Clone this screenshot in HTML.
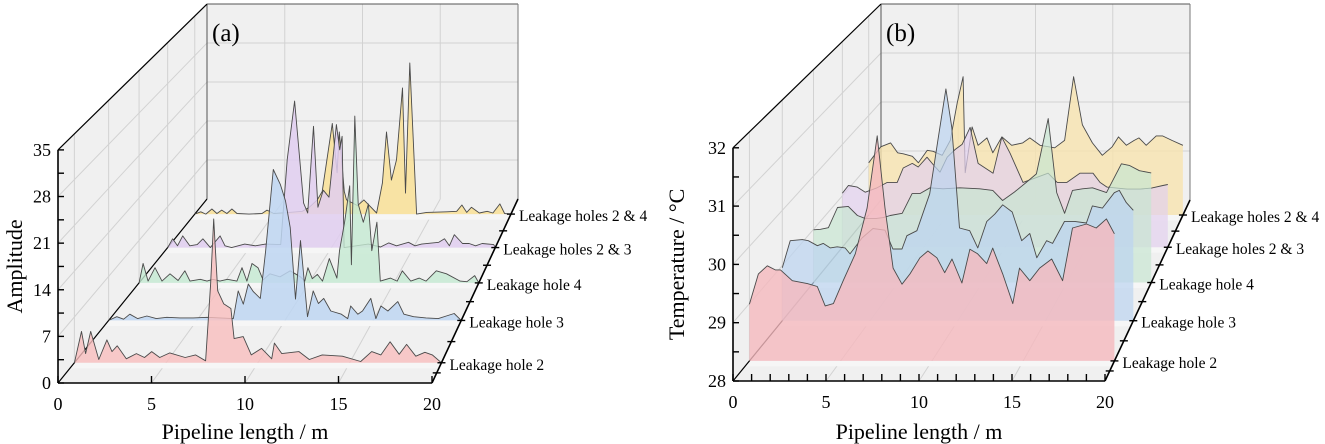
<!DOCTYPE html>
<html><head><meta charset="utf-8">
<style>
html,body{margin:0;padding:0;background:#fff;}
svg{display:block;font-family:"Liberation Serif",serif;}
</style></head>
<body>
<svg id="chart" width="1325" height="444" viewBox="0 0 1325 444" xmlns="http://www.w3.org/2000/svg"></svg>
<script>
// ---------- Panel (a): amplitude ----------
const aSeriesNames = ["Leakage hole 2","Leakage hole 3","Leakage hole 4","Leakage holes 2 & 3","Leakage holes 2 & 4"];
const aX_h2 = [0,0.39,0.61,0.89,1.33,1.77,2.05,2.33,2.83,3.38,3.82,4.21,4.65,5.2,6.04,6.6,7.15,7.42,7.59,7.81,8.14,8.53,8.7,9.2,9.64,10.2,10.75,10.9,11.3,12.24,12.8,13.5,14.6,15.6,16.2,16.7,17.2,17.7,18.1,18.6,19.1,19.5,20];
const aY_h2 = [0,4.8,1.4,4.8,0.5,3.5,1.7,2.6,0.6,1.4,0.8,1.7,0.8,1.5,0.8,1.2,0.3,12,22,11,9,8.3,3.7,4,1.2,2.2,0.6,3,1.4,1.7,0.5,1.2,1,0.2,1.7,1.2,3.2,1.3,2.8,1.0,1.6,1.2,0];
const aX_h3 = [0,0.46,0.85,1.2,1.65,2.17,2.7,3.3,4.05,4.8,5.6,6.3,7.07,7.35,7.64,7.92,8.2,8.6,8.9,9.34,9.74,10.03,10.3,10.6,10.88,11.28,11.6,11.9,12.2,12.6,13.2,13.56,13.73,14.13,14.4,14.87,15.16,15.44,15.84,16.4,16.75,17.3,18,18.7,19.15,19.6,20];
const aY_h3 = [0,0.6,0.2,1,0.3,0.7,0.3,0.5,0.4,0.4,0.5,0.4,0.3,4.7,2.6,5.8,4.6,3.5,11,24,21.6,19,14.8,3.4,12.7,0.6,4.7,2.7,3.5,1.5,1,0.3,2.3,1,1.5,3.5,0.3,2.3,1.5,3,1,0.6,0.4,0.3,0.7,1.1,0];
const aX_h4 = [0,0.24,0.53,0.94,1.35,1.82,2.3,2.7,3,3.6,4,4.35,4.76,5.2,5.76,6.06,6.35,6.65,7,7.3,7.7,8.3,8.9,9.5,9.76,9.94,10.2,10.5,10.8,11.2,11.65,11.8,12.1,12.4,12.5,12.7,12.9,13.2,13.5,13.7,14,14.2,14.8,15.2,15.5,16,16.5,16.9,17.5,18.1,18.9,19.3,19.76,20];
const aY_h4 = [0,3.2,0.3,2.5,0.3,1.5,0.4,2,0.3,0.6,0.3,0.6,0.3,0.6,0.3,2.5,0.3,3.2,2.5,0.5,1.5,1,2,1,0.3,2.5,0.7,1.4,0.3,4,0.8,5.3,10,16,3,27.5,13,10,13,5.3,10,0.3,0.8,0.3,2,0.3,0.8,0.3,2,1.5,0.3,0.2,1.2,0];
const aX_h23 = [0,0.3,0.6,0.92,1.35,1.8,2.15,2.6,3.2,3.5,3.9,4.7,5.35,5.97,6.9,7.3,7.75,8.3,8.55,8.9,9.17,9.5,9.85,10.3,10.5,10.65,10.77,11.5,12.25,13,13.5,13.97,14.7,15.1,15.5,16.55,16.9,17.2,17.5,18,18.4,18.8,19.2,19.9,20];
const aY_h23 = [0,1.5,0.3,2,0.3,0.5,1.5,0,2,0.3,0,0.6,0.3,0.6,0.5,15,25,7.6,5.9,20.7,6.9,9.8,8.6,21,16.7,19,0,0.3,0.6,0.1,0.8,0.3,0.9,0.3,0.6,0.9,1.5,0.3,2.2,0.7,0.7,0.3,0.7,0.5,0];
const aX_h24 = [0,0.38,0.7,1.08,1.4,1.7,2.03,2.35,2.67,3.43,4.25,4.57,5,5.97,6.8,7.24,7.75,8.06,8.7,9,9.14,9.46,9.6,10.3,10.7,11.5,11.87,12.13,12.44,12.76,13.14,13.33,13.6,14.03,14.67,15.94,16.57,16.9,17.2,17.5,18,18.5,18.86,19.3,19.6,20];
const aY_h24 = [0,0.4,0,0.9,0.1,0.7,0.1,0.9,0.1,0,0.1,0.7,0.1,0.3,0.5,1.2,2.5,4,16,7.3,14.5,4,2.5,1.5,2.5,0.2,5.5,14.5,6,9.6,22.3,3.7,26.7,0,0.3,0.4,0.5,1.6,0.3,1.2,0.2,0.5,0.2,1.8,0.1,0];
const aYTicks = [0,7,14,21,28,35];
const xTickLabels = [0,5,10,15,20];

// ---------- Panel (b): temperature ----------
const bSeriesNames = ["Leakage hole 2","Leakage hole 3","Leakage hole 4","Leakage holes 2 & 3","Leakage holes 2 & 4"];
const bX_h2 = [0,0.49,0.98,1.42,1.7,2.35,3.17,3.72,4.15,4.6,5.14,5.8,6.45,7.0,7.43,7.87,8.36,8.8,9.34,9.78,10.27,10.7,11.1,11.64,12.08,12.5,13.0,13.33,13.88,14.43,14.8,15.36,15.9,16.56,17.16,17.7,18.47,19.0,19.56,20];
const bY_h2 = [28.99,29.52,29.66,29.59,29.59,29.4,29.35,29.3,28.96,29.0,29.4,29.87,30.67,31.93,30.67,29.62,29.34,29.52,29.8,29.92,29.8,29.54,29.78,29.36,29.95,29.87,29.7,29.97,29.52,29.0,29.62,29.4,29.62,29.78,29.4,30.32,30.39,30.32,30.48,30.22];
const bX_h3 = [0,0.45,1.14,1.48,2.0,2.33,2.73,3.13,3.58,3.86,4.55,5.17,5.85,6.3,6.82,7.1,7.67,8.4,8.86,9.32,9.66,10.1,10.68,11.14,11.65,12.1,12.56,13.1,13.64,14.1,14.5,15.06,15.4,16.08,16.65,17.33,17.67,18.24,18.92,19.2,19.6,20];
const bY_h3 = [28.96,29.45,29.47,29.45,29.36,29.4,29.32,29.34,29.32,29.21,29.5,29.67,29.64,29.3,29.3,29.54,29.63,30.3,31.26,32.2,31.5,29.68,29.63,29.32,29.8,29.93,30.1,29.97,29.45,29.58,29.14,29.45,29.4,29.8,29.8,29.77,30.08,30.04,30.32,30.36,30.14,30.0];
const bX_h4 = [0,0.41,0.88,1.42,2.06,2.6,3.07,3.66,4.13,4.54,5.25,5.84,6.3,6.9,7.67,8.67,9.85,10.62,11.2,11.9,12.6,13.2,13.9,14.4,14.87,15.34,15.93,16.52,17.35,18.23,18.7,19.3,20];
const bY_h4 = [28.99,29.0,29.03,29.41,29.43,29.26,29.2,29.2,29.22,29.26,29.3,29.67,29.67,29.78,29.76,29.78,29.76,29.73,29.54,29.7,29.88,30.04,31.08,29.69,29.3,29.73,29.76,29.78,29.69,30.23,30.2,30.1,30.06];
const bX_h23 = [0,0.37,0.92,1.41,2.09,2.76,3.37,3.74,4.3,4.66,5.2,5.6,6.0,6.44,6.93,7.36,7.85,8.34,9.26,9.8,10.3,11.1,11.96,12.64,13.2,13.8,14.6,15.4,15.83,16.26,16.87,17.5,18.3,19.0,19.7,20];
const bY_h23 = [29.05,29.2,29.17,29.07,29.15,29.26,29.26,29.54,29.63,29.56,29.75,29.6,29.46,29.75,29.9,30.0,30.33,29.63,29.44,30.14,29.83,29.26,29.36,29.44,29.26,29.26,29.44,29.44,29.26,29.17,29.15,29.13,29.13,29.15,29.2,29.22];
const bX_h24 = [0,0.76,1.39,1.84,2.2,2.78,3.16,3.73,4.1,4.68,5.19,5.63,6.01,6.14,6.58,6.96,7.53,7.9,8.48,9.1,9.8,10.25,10.9,11.84,12.47,13.04,13.6,14.24,14.87,15.5,15.9,16.4,16.9,17.2,17.66,18.3,18.7,19.3,20];
const bY_h24 = [29.05,29.37,29.45,29.25,29.23,29.18,29.05,29.3,29.28,29.2,29.5,30.25,30.78,28.85,29.77,29.4,29.55,29.25,29.57,29.4,29.45,29.55,29.4,29.35,29.5,30.78,29.81,29.45,29.2,29.37,29.57,29.4,29.5,29.55,29.4,29.59,29.59,29.5,29.4];
const bYTicks = [28,29,30,31,32];

const NS = "http://www.w3.org/2000/svg";
const svg = document.getElementById("chart");
function mk(tag, attrs, parent) {
  const e = document.createElementNS(NS, tag);
  for (const k in attrs) e.setAttribute(k, attrs[k]);
  (parent || svg).appendChild(e);
  return e;
}

function drawPanel(P, series, names, yTicks, minorStep, xMinor, fills, yTitle, letter) {
  const g = mk("g", {});
  
  
  const proj = (d, xm, v) => {
    const xL = P.fxL + (P.bxL - P.fxL) * d, xR = P.fxR + (P.bxR - P.fxR) * d;
    const y0 = P.fy + (P.by - P.fy) * d, s = P.fs + (P.bs - P.fs) * d;
    return [xL + (xR - xL) * xm / 20, y0 - (v - P.ymin) * s];
  };
  const pt = p => p[0].toFixed(1) + "," + p[1].toFixed(1);
  const poly = (pts, attrs) => mk("polygon", Object.assign({points: pts.map(pt).join(" ")}, attrs), g);
  const line = (a, b, attrs) => mk("line", Object.assign({x1: a[0], y1: a[1], x2: b[0], y2: b[1]}, attrs), g);
  const lw = poly([proj(0,0,P.ymin), proj(1,0,P.ymin), proj(1,0,P.ymax), proj(0,0,P.ymax)], {fill:"#f0f0f0"});
  
  
  const bw = poly([proj(1,0,P.ymin), proj(1,20,P.ymin), proj(1,20,P.ymax), proj(1,0,P.ymax)], {fill:"#f0f0f0"});
  
  
  const fl = poly([proj(0,0,P.ymin), proj(0,20,P.ymin), proj(1,20,P.ymin), proj(1,0,P.ymin)], {fill:"#f0f0f0"});
  
  
  const gc = {stroke:"#d2d2d2", "stroke-width":1};
  yTicks.forEach((v, i) => {
    if (i === 0 || i === yTicks.length - 1) return;
    line(proj(0,0,v), proj(1,0,v), gc);
    line(proj(1,0,v), proj(1,20,v), gc);
  });
  [5,10,15].forEach(x => {
    line(proj(1,x,P.ymin), proj(1,x,P.ymax), gc);
    line(proj(0,x,P.ymin), proj(1,x,P.ymin), gc);
  });
  P.depths.forEach(d => {
    line(proj(d,0,P.ymin), proj(d,0,P.ymax), gc);
    poly([proj(d,0,P.ymin), proj(d,20,P.ymin), proj(d-0.03,20,P.ymin), proj(d-0.03,0,P.ymin)], {fill:"#f6f6f6"});
  });
  line(proj(1,0,P.ymin), proj(1,0,P.ymax), {stroke:"#555", "stroke-width":1});
  line(proj(1,0,P.ymax), proj(1,20,P.ymax), {stroke:"#555", "stroke-width":1});
  line(proj(1,20,P.ymin), proj(1,20,P.ymax), {stroke:"#777", "stroke-width":1});
  line(proj(0,0,P.ymin), proj(1,0,P.ymin), {stroke:"#000", "stroke-width":1.2});
  for (let i = series.length - 1; i >= 0; i--) {
    const d = P.depths[i], xs = series[i][0], ys = series[i][1];
    const top = xs.map((x, k) => proj(d, x, ys[k]));
    const area = poly([proj(d,0,P.ymin)].concat(top).concat([proj(d,20,P.ymin)]), {fill: fills[i]});
    
    
    const pl = mk("polyline", {points: top.map(pt).join(" "), fill:"none", stroke:"#4a4a4a", "stroke-width":0.9, "stroke-linejoin":"round"}, g);
    
    
  }
  const ax = {stroke:"#000", "stroke-width":1.6};
  line(proj(0,0,P.ymin), proj(0,20,P.ymin), ax);
  line(proj(0,20,P.ymin), proj(1,20,P.ymin), ax);
  line(proj(0,0,P.ymin), proj(0,0,P.ymax), ax);
  line(proj(0,0,P.ymax), proj(1,0,P.ymax), {stroke:"#000", "stroke-width":1.2});
  for (let v = P.ymin; v <= P.ymax + 1e-6; v += minorStep) {
    const p = proj(0,0,v);
    line(p, [p[0] + 6, p[1]], {stroke:"#000", "stroke-width":1.4});
  }
  yTicks.forEach(v => {
    const p = proj(0,0,v);
    const t = mk("text", {x: p[0] - 7, y: p[1] + 6, "text-anchor":"end", "font-size":18}, g);
    t.textContent = v;
    
    
  });
  for (let x = 0; x <= 20; x += xMinor) {
    const p = proj(0,x,P.ymin);
    line(p, [p[0], p[1] - 7], {stroke:"#000", "stroke-width":1.4});
  }
  xTickLabels.forEach(x => {
    const p = proj(0,x,P.ymin);
    const t = mk("text", {x: p[0], y: p[1] + 27, "text-anchor":"middle", "font-size":18}, g);
    t.textContent = x;
    
    
  });
  const dTicks = [];
  P.depths.forEach((d, i) => { dTicks.push(d); if (i < P.depths.length - 1) dTicks.push((d + P.depths[i+1]) / 2); });
  dTicks.push(P.depths[0] / 2);
  dTicks.forEach(d => {
    const p = proj(d,20,P.ymin);
    line([p[0] - 4, p[1]], [p[0] + 4, p[1]], {stroke:"#000", "stroke-width":1.4});
  });
  P.depths.forEach((d, i) => {
    const p = proj(d,20,P.ymin);
    const t = mk("text", {x: p[0] + 8, y: p[1] + 7, "font-size":15.5}, g);
    t.textContent = names[i];
    
    
  });
  const mid = proj(0,10,P.ymin);
  const xt = mk("text", {x: mid[0], y: 439, "text-anchor":"middle", "font-size":22}, g);
  xt.textContent = "Pipeline length / m";
  
  
  const yc = (proj(0,0,P.ymin)[1] + proj(0,0,P.ymax)[1]) / 2;
  const yt = mk("text", {x: P.yTitleX, y: yc, "text-anchor":"middle", "font-size":22, transform:`rotate(-90 ${P.yTitleX} ${yc})`}, g);
  yt.textContent = yTitle;
  
  
  const lt = mk("text", {x: P.bxL + 5, y: 41, "font-size":25}, g);
  lt.textContent = letter;
  
  
}

const PA = {id:"a", fxL:58, fxR:432, fy:383, bxL:207, bxR:518, by:199, fs:6.66, bs:5.57, ymin:0, ymax:35,
  depths:[0.11,0.34,0.544,0.736,0.918], yTitleX:22};
const PB = {id:"b", fxL:733, fxR:1105, fy:381, bxL:881, bxR:1190, by:200, fs:58.3, bs:49, ymin:28, ymax:32,
  depths:[0.111,0.333,0.544,0.739,0.917], yTitleX:684};

drawPanel(PA, [[aX_h2,aY_h2],[aX_h3,aY_h3],[aX_h4,aY_h4],[aX_h23,aY_h23],[aX_h24,aY_h24]], aSeriesNames, aYTicks, 3.5, 5,
  ["rgba(249,190,190,0.8)","rgba(190,214,242,0.85)","rgba(196,234,210,0.8)","rgba(224,206,240,0.85)","rgba(249,224,150,0.85)"],
  "Amplitude", "(a)");
drawPanel(PB, [[bX_h2,bY_h2],[bX_h3,bY_h3],[bX_h4,bY_h4],[bX_h23,bY_h23],[bX_h24,bY_h24]], bSeriesNames, bYTicks, 0.5, 1,
  ["rgba(245,185,190,0.8)","rgba(188,212,240,0.72)","rgba(200,230,210,0.7)","rgba(226,208,238,0.7)","rgba(248,228,175,0.8)"],
  "Temperature /  \u00B0C", "(b)");
</script>
</body></html>
